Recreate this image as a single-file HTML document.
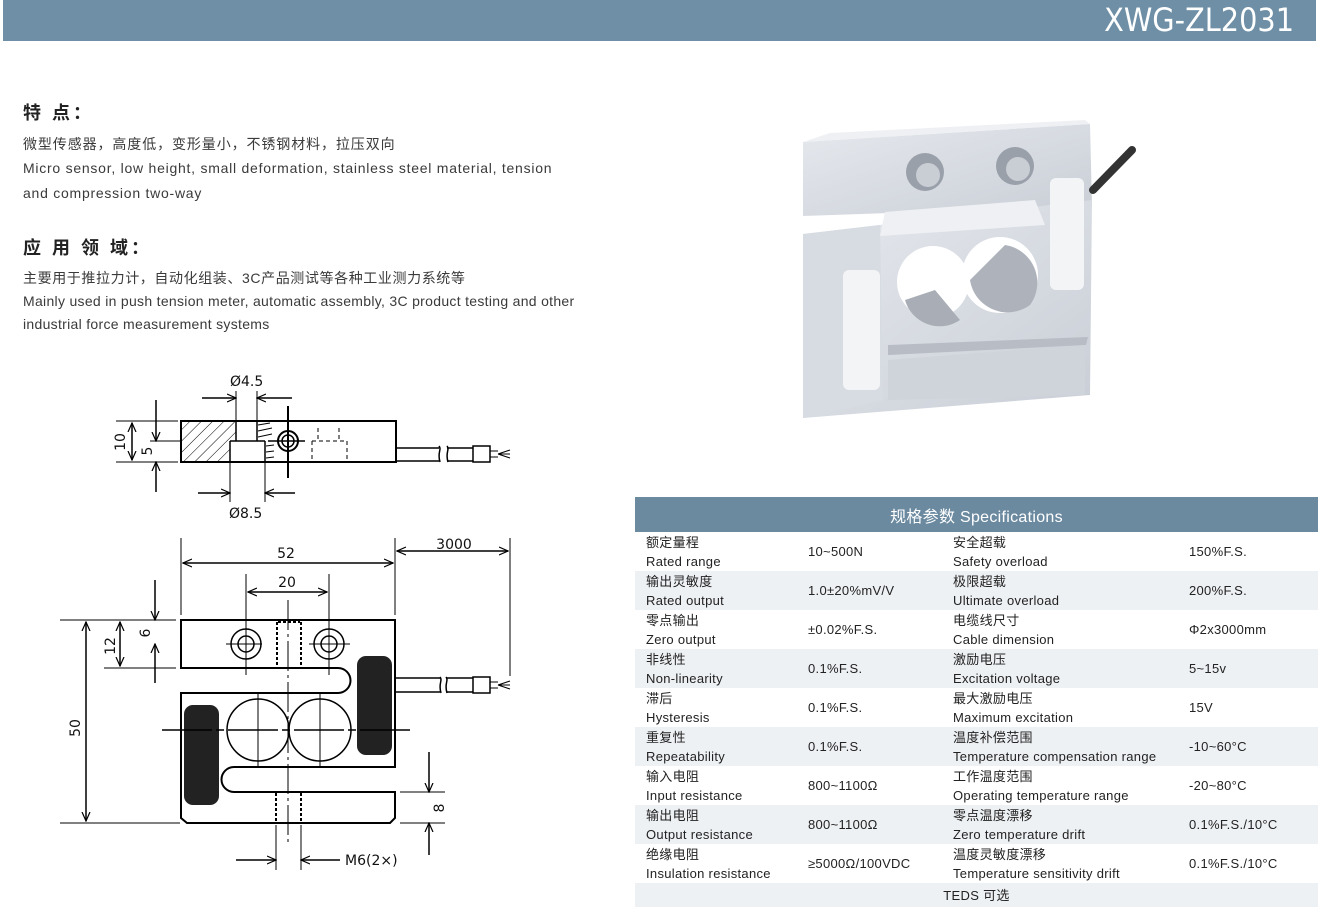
<!DOCTYPE html>
<html><head><meta charset="utf-8"><style>
body{margin:0;width:1319px;height:912px;background:#fff;position:relative;overflow:hidden;font-family:"Liberation Sans","Noto Sans CJK SC",sans-serif;color:#333}
.hdr{position:absolute;left:3px;top:0;width:1313px;height:41px;background:#6e8fa6}
.hdr span{position:absolute;right:22px;top:1px;color:#fff;font-size:32px;font-family:"DejaVu Sans Condensed","Liberation Sans",sans-serif}
.t{position:absolute;left:23px;font-size:14px;white-space:nowrap;color:#3a3a3a;letter-spacing:0.6px}
.h{position:absolute;left:23px;font-size:18px;font-weight:bold;color:#222;letter-spacing:3px}
table{position:absolute;left:635px;top:497px;width:683px;border-collapse:collapse;font-size:13px;color:#222;letter-spacing:0.3px}
td{padding:0;height:39px;vertical-align:middle;line-height:19px}
tr.s td{background:#eef1f4}
th{background:#6b8aa0;color:#fff;font-weight:normal;font-size:16px;height:33px}
</style></head><body>
<div class="hdr"><span>XWG-ZL2031</span></div>
<div class="h" style="top:99px">特 点：</div>
<div class="t" style="top:134px;letter-spacing:0.9px">微型传感器，高度低，变形量小，不锈钢材料，拉压双向</div>
<div class="t" style="top:160px;letter-spacing:0.75px">Micro sensor, low height, small deformation, stainless steel material, tension</div>
<div class="t" style="top:185px;letter-spacing:0.75px">and compression two-way</div>
<div class="h" style="top:234px">应 用 领 域：</div>
<div class="t" style="top:268px;letter-spacing:0.6px">主要用于推拉力计，自动化组装、3C产品测试等各种工业测力系统等</div>
<div class="t" style="top:293px;letter-spacing:0.3px">Mainly used in push tension meter, automatic assembly, 3C product testing and other</div>
<div class="t" style="top:316px;letter-spacing:0.3px">industrial force measurement systems</div>

<svg style="position:absolute;left:0;top:0" width="1319" height="912">
<defs>
<linearGradient id="g1" x1="0" y1="0" x2="1" y2="1"><stop offset="0" stop-color="#e6e9ee"/><stop offset="1" stop-color="#c9ced6"/></linearGradient>
<pattern id="hat" width="8" height="8" patternUnits="userSpaceOnUse" patternTransform="rotate(45)"><line x1="0" y1="0" x2="0" y2="8" stroke="#000" stroke-width="1"/></pattern>
<marker id="a" markerWidth="10" markerHeight="10" refX="9" refY="5" orient="auto-start-reverse" markerUnits="userSpaceOnUse"><path d="M0,1 L9,5 L0,9" fill="none" stroke="#000" stroke-width="1.2"/></marker>
</defs>
<g>
<polygon points="803,142 1090,124 1092,206 803,216" fill="url(#g1)"/>
<polygon points="803,142 830,133 1085,120 1090,124" fill="#eef0f3"/>
<polygon points="803,234 1092,200 1090,395 803,418" fill="url(#g1)"/>
<polygon points="803,234 880,225 883,400 803,418" fill="#d7dbe2"/>
<rect x="843" y="270" width="37" height="120" rx="6" fill="#f3f4f6"/>
<rect x="1050" y="178" width="34" height="112" rx="6" fill="#f3f4f6"/>
<circle cx="933" cy="282" r="36" fill="#fff"/><circle cx="1000" cy="275" r="38" fill="#fff"/>
<path d="M905,300 a36,36 0 0 0 55,20 L935,290Z" fill="#a9aeb6"/>
<path d="M970,280 a38,38 0 0 0 60,25 a38,38 0 0 0 -25,-60Z" fill="#aeb3bb"/>
<polygon points="888,345 1088,337 1086,345 888,355" fill="#b8bdc5"/>
<polygon points="888,360 1085,345 1085,395 888,400" fill="#cfd3da"/>
<circle cx="925" cy="172" r="19" fill="#9aa0a9"/><circle cx="1015" cy="166" r="19" fill="#9aa0a9"/>
<circle cx="928" cy="175" r="12" fill="#c9cdd4"/><circle cx="1018" cy="169" r="12" fill="#c9cdd4"/>
<polygon points="885,212 1035,200 1045,225 880,236" fill="#eef0f3"/>
<line x1="1093" y1="190" x2="1132" y2="150" stroke="#333" stroke-width="8" stroke-linecap="round"/>
</g>

<g fill="none" stroke="#000" stroke-width="1.5">
<rect x="181" y="421" width="215" height="41" stroke-width="2"/>
<polygon points="182,422 236,422 236,441 230,441 230,461 182,461" fill="url(#hat)" stroke="none"/>
<line x1="236" y1="421" x2="236" y2="441"/><line x1="257" y1="421" x2="257" y2="441"/>
<line x1="230" y1="441" x2="265" y2="441"/><line x1="230" y1="441" x2="230" y2="462"/><line x1="265" y1="441" x2="265" y2="462"/>
<path d="M258,425 l12,-2 M258,431 l14,-3 M258,437 l14,-3 M266,446 l8,-1 M266,452 l8,-1 M266,458 l8,-1" stroke-width="1"/>
<circle cx="288" cy="441" r="10" stroke-width="2"/><circle cx="288" cy="441" r="6"/>
<line x1="288" y1="406" x2="288" y2="478" stroke-width="2"/><line x1="268" y1="441" x2="305" y2="441"/>
<line x1="150" y1="441" x2="181" y2="441" stroke-width="1"/>
<path d="M312,441 h35 v20 M312,441 v20 M318,428 v12 M339,428 v12" stroke-dasharray="4,3" stroke-width="1"/>
<path d="M396,448 h43 M396,461 h43 M447,448 h26 M447,461 h26" />
<path d="M439,446 c3,4 -2,6 1,16 M447,446 c3,4 -2,6 1,16"/>
<rect x="473" y="446" width="17" height="16"/>
<path d="M490,451 h8 M490,457 h8 M498,454 l12,-4 M498,454 h12 M498,454 l12,4" stroke-width="1"/>
<line x1="236" y1="391" x2="236" y2="421" stroke-width="1"/><line x1="257" y1="391" x2="257" y2="421" stroke-width="1"/>
<line x1="202" y1="398" x2="236" y2="398" marker-end="url(#a)"/><line x1="292" y1="398" x2="257" y2="398" marker-end="url(#a)"/>
<line x1="230" y1="462" x2="230" y2="502" stroke-width="1"/><line x1="265" y1="462" x2="265" y2="502" stroke-width="1"/>
<line x1="198" y1="493" x2="230" y2="493" marker-end="url(#a)"/><line x1="295" y1="493" x2="265" y2="493" marker-end="url(#a)"/>
<line x1="116" y1="421" x2="178" y2="421" stroke-width="1"/><line x1="116" y1="462" x2="178" y2="462" stroke-width="1"/>
<line x1="132" y1="423" x2="132" y2="460" marker-start="url(#a)" marker-end="url(#a)"/>
<line x1="156" y1="400" x2="156" y2="441" marker-end="url(#a)"/><line x1="156" y1="492" x2="156" y2="462" marker-end="url(#a)"/>

<path d="M181,620 H395 V767 H234 A12.5,12.5 0 0 0 234,792 H395 V818 L390,823 H187 L181,818 V693 H338 A12.5,12.5 0 0 0 338,668 H181 Z" stroke-width="2"/>
<circle cx="258" cy="730" r="31"/><circle cx="320" cy="730" r="31"/>
<rect x="184" y="705" width="35" height="100" rx="9" fill="#222" stroke="none"/>
<rect x="357" y="656" width="35" height="99" rx="9" fill="#222" stroke="none"/>
<circle cx="246" cy="644" r="15"/><circle cx="246" cy="644" r="8"/>
<circle cx="329" cy="644" r="15"/><circle cx="329" cy="644" r="8"/>
<path d="M277,622 v46 M278,622 h22 M301,622 v46 M276,793 v30 M301,793 v30" stroke-dasharray="3,2" stroke-width="2"/>
<line x1="288" y1="600" x2="288" y2="843" stroke-width="1" stroke-dasharray="30,4,3,4"/>
<line x1="162" y1="730" x2="412" y2="730" stroke-width="1.5" stroke-dasharray="50,4,8,4"/>
<line x1="226" y1="644" x2="262" y2="644" stroke-width="1"/><line x1="309" y1="644" x2="350" y2="644" stroke-width="1"/>
<line x1="246" y1="574" x2="246" y2="675" stroke-width="1"/><line x1="329" y1="574" x2="329" y2="675" stroke-width="1"/>
<line x1="258" y1="692" x2="258" y2="768" stroke-width="1"/><line x1="320" y1="692" x2="320" y2="768" stroke-width="1"/>
<path d="M396,678 h44 M396,692 h44 M447,678 h26 M447,692 h26"/>
<path d="M440,677 c3,4 -2,6 1,16 M446,677 c3,4 -2,6 1,16"/>
<rect x="473" y="677" width="17" height="16"/>
<path d="M490,682 h8 M490,688 h8 M498,685 l12,-4 M498,685 h12 M498,685 l12,4" stroke-width="1"/>
<line x1="181" y1="538" x2="181" y2="615" stroke-width="1"/><line x1="395" y1="538" x2="395" y2="615" stroke-width="1"/>
<line x1="510" y1="538" x2="510" y2="676" stroke-width="1"/>
<line x1="183" y1="563" x2="393" y2="563" marker-start="url(#a)" marker-end="url(#a)"/>
<line x1="397" y1="551" x2="508" y2="551" marker-start="url(#a)" marker-end="url(#a)"/>
<line x1="248" y1="592" x2="327" y2="592" marker-start="url(#a)" marker-end="url(#a)"/>
<line x1="60" y1="620" x2="176" y2="620" stroke-width="1"/><line x1="60" y1="823" x2="180" y2="823" stroke-width="1"/>
<line x1="104" y1="668" x2="176" y2="668" stroke-width="1"/>
<line x1="86" y1="622" x2="86" y2="821" marker-start="url(#a)" marker-end="url(#a)"/>
<line x1="120" y1="622" x2="120" y2="666" marker-start="url(#a)" marker-end="url(#a)"/>
<line x1="155" y1="580" x2="155" y2="620" marker-end="url(#a)"/><line x1="155" y1="683" x2="155" y2="644" marker-end="url(#a)"/>
<line x1="400" y1="792" x2="445" y2="792" stroke-width="1"/><line x1="400" y1="823" x2="445" y2="823" stroke-width="1"/>
<line x1="429" y1="752" x2="429" y2="792" marker-end="url(#a)"/><line x1="429" y1="855" x2="429" y2="823" marker-end="url(#a)"/>
<line x1="276" y1="825" x2="276" y2="870" stroke-width="1"/><line x1="301" y1="825" x2="301" y2="870" stroke-width="1"/>
<line x1="236" y1="860" x2="276" y2="860" marker-end="url(#a)"/><line x1="340" y1="860" x2="301" y2="860" marker-end="url(#a)"/>
</g>
<g font-family="DejaVu Sans,Liberation Sans,sans-serif" font-size="14" fill="#111">
<text x="230" y="386">Ø4.5</text><text x="229" y="518">Ø8.5</text>
<text x="125" y="442" transform="rotate(-90 125 442)" text-anchor="middle">10</text>
<text x="152" y="451" transform="rotate(-90 152 451)" text-anchor="middle">5</text>
<text x="286" y="558" text-anchor="middle">52</text>
<text x="454" y="549" text-anchor="middle">3000</text>
<text x="287" y="587" text-anchor="middle">20</text>
<text x="80" y="728" transform="rotate(-90 80 728)" text-anchor="middle">50</text>
<text x="115" y="646" transform="rotate(-90 115 646)" text-anchor="middle">12</text>
<text x="150" y="633" transform="rotate(-90 150 633)" text-anchor="middle">6</text>
<text x="444" y="808" transform="rotate(-90 444 808)" text-anchor="middle">8</text>
<text x="345" y="865">M6(2×)</text>
</g>
</svg>

<table>
<tr><th colspan="4">规格参数 Specifications</th></tr>
<tr><td style="padding-left:11px;width:162px">额定量程<br>Rated range</td><td style="width:145px">10~500N</td><td style="width:236px">安全超载<br>Safety overload</td><td>150%F.S.</td></tr>
<tr class="s"><td style="padding-left:11px">输出灵敏度<br>Rated output</td><td>1.0±20%mV/V</td><td>极限超载<br>Ultimate overload</td><td>200%F.S.</td></tr>
<tr><td style="padding-left:11px">零点输出<br>Zero output</td><td>±0.02%F.S.</td><td>电缆线尺寸<br>Cable dimension</td><td>Φ2x3000mm</td></tr>
<tr class="s"><td style="padding-left:11px">非线性<br>Non-linearity</td><td>0.1%F.S.</td><td>激励电压<br>Excitation voltage</td><td>5~15v</td></tr>
<tr><td style="padding-left:11px">滞后<br>Hysteresis</td><td>0.1%F.S.</td><td>最大激励电压<br>Maximum excitation</td><td>15V</td></tr>
<tr class="s"><td style="padding-left:11px">重复性<br>Repeatability</td><td>0.1%F.S.</td><td>温度补偿范围<br>Temperature compensation range</td><td>-10~60°C</td></tr>
<tr><td style="padding-left:11px">输入电阻<br>Input resistance</td><td>800~1100Ω</td><td>工作温度范围<br>Operating temperature range</td><td>-20~80°C</td></tr>
<tr class="s"><td style="padding-left:11px">输出电阻<br>Output resistance</td><td>800~1100Ω</td><td>零点温度漂移<br>Zero temperature drift</td><td>0.1%F.S./10°C</td></tr>
<tr><td style="padding-left:11px">绝缘电阻<br>Insulation resistance</td><td>≥5000Ω/100VDC</td><td>温度灵敏度漂移<br>Temperature sensitivity drift</td><td>0.1%F.S./10°C</td></tr>
<tr class="s"><td colspan="4" style="text-align:center;height:24px">TEDS 可选</td></tr>
</table>
</body></html>
